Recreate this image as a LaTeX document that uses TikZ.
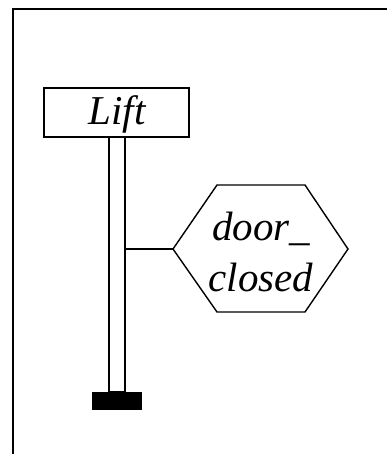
\documentclass[tikz,border=0pt]{standalone}
\usepackage{fontspec}
\setmainfont{Liberation Serif}
\begin{document}
\begin{tikzpicture}[x=1pt,y=-1pt,
  lbl/.style={font=\fontsize{41}{51}\selectfont\itshape, inner sep=0pt},
  classbox/.style={draw, line width=1.6pt, minimum width=145pt, minimum height=49pt, inner sep=0pt},
  lifeline/.style={draw, line width=1.6pt, fill=white, minimum width=16pt, minimum height=255pt, inner sep=0pt},
  stopbar/.style={fill=black, minimum width=50pt, minimum height=18pt, inner sep=0pt},
  link/.style={line width=1.4pt},
  frame/.style={line width=2.6pt}]
  \useasboundingbox (0,0) rectangle (387,454);

  % outer frame (top and left edges)
  \coordinate (fTL) at (13,9);
  \coordinate (fTR) at (390,9);
  \coordinate (fBL) at (13,457);
  \draw[frame] (fTR) -- (fTL) -- (fBL);

  % lifeline with its head and terminating bar
  \node[lifeline] (life) at (117,264.5) {};
  \node[classbox] (lift) at (116.5,112.5) {};
  \node[lbl] (liftT) at (117,114) {Lift};
  \node[stopbar] (bar) at (117,401) {};

  % condition hexagon
  \coordinate (hL) at (173,249);
  \coordinate (hTL) at (217,185);
  \coordinate (hTR) at (305,185);
  \coordinate (hR) at (348,249);
  \coordinate (hBR) at (305,312);
  \coordinate (hBL) at (217,312);
  \draw[link, line join=miter] (hL) -- (hTL) -- (hTR) -- (hR) -- (hBR) -- (hBL) -- cycle;
  \node[lbl, align=center] (cond) at (261,252) {door\_\\closed};

  \draw[link] (life.east |- hL) -- (hL);
\end{tikzpicture}
\end{document}
